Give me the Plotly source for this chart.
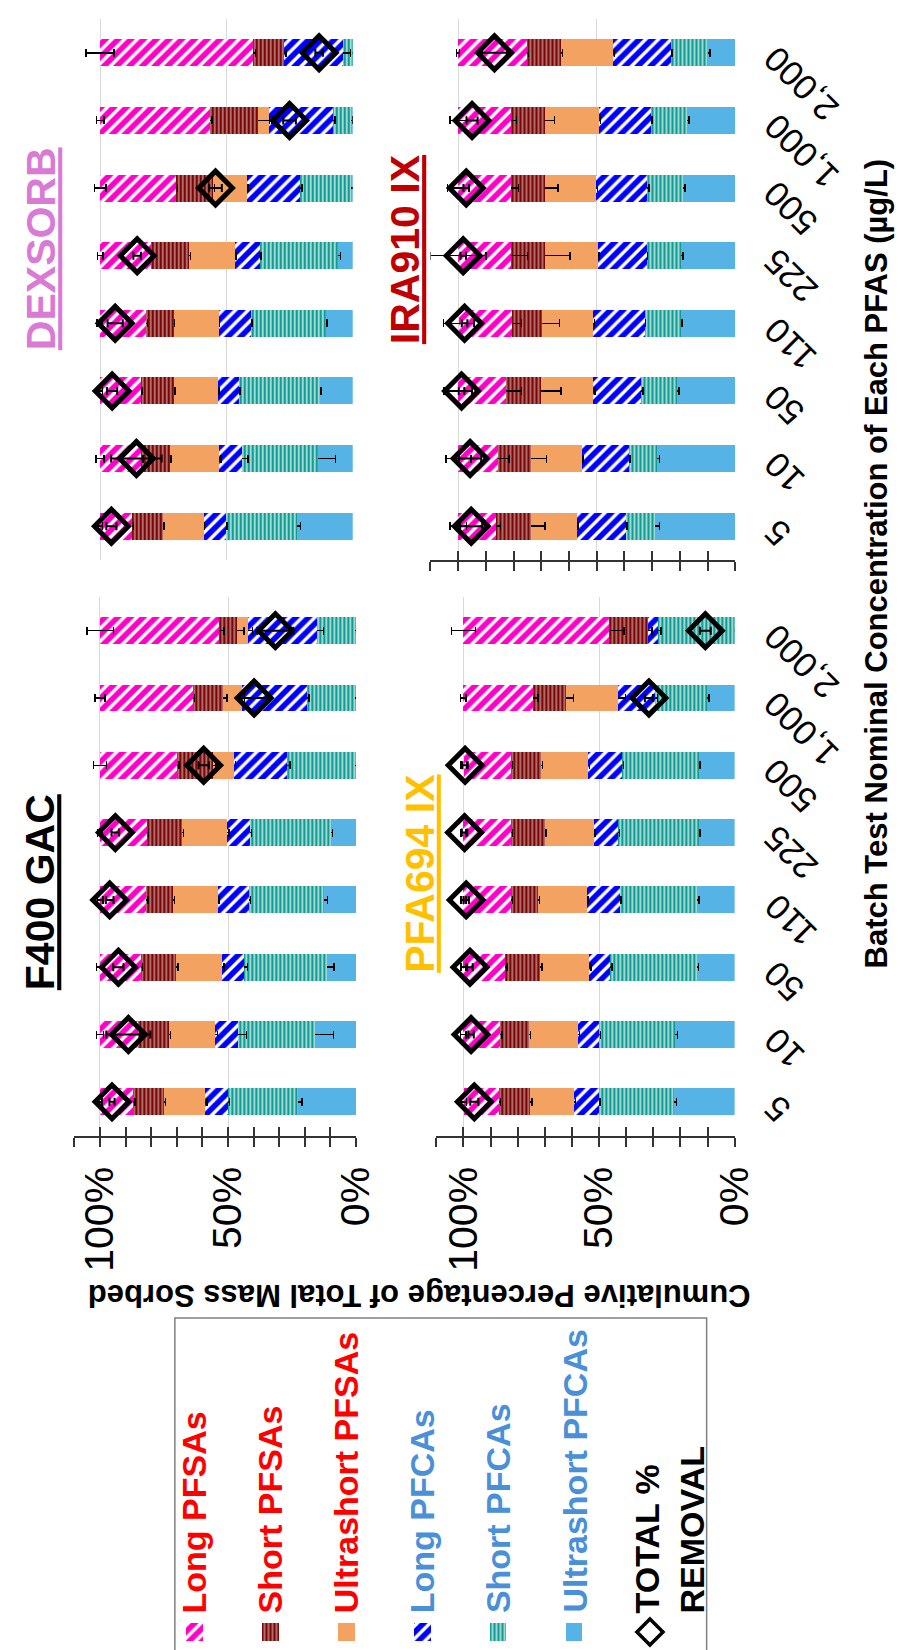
import plotly.graph_objects as go

W, H = 907, 1650
FONT = "Liberation Sans, Arial, sans-serif"

# ---------------- data ----------------
CATS = ["5", "10", "50", "110", "225", "500", "1,000", "2,000"]
SERIES = ["Ultrashort PFCAs", "Short PFCAs", "Long PFCAs",
          "Ultrashort PFSAs", "Short PFSAs", "Long PFSAs"]

# DEXSORB
dex_ulpfca = [22.1, 13.9, 13.1, 10.6, 6.0, 0.6, 0.6, 0.0]
dex_spfca = [28.1, 29.9, 31.9, 29.6, 30.6, 20.3, 7.3, 3.9]
dex_lpfca = [8.8, 9.3, 8.4, 12.9, 10.0, 20.8, 25.1, 23.4]
dex_ulpfsa = [16.1, 19.4, 17.4, 17.8, 18.0, 13.5, 4.5, 0.0]
dex_spfsa = [12.2, 11.2, 13.1, 10.9, 15.1, 14.8, 19.0, 12.0]
dex_lpfsa = [12.7, 16.3, 16.1, 18.3, 20.2, 29.9, 43.4, 60.7]
dex_total = [95.5, 85.6, 95.2, 94.0, 85.3, 54.3, 25.0, 13.3]
dex_e_ulpfca = [1.5, 7.0, 0.5, 0.5, 1.2, 1.2, 0.5, 0.5]
dex_e_spfca = [0.4, 2.4, 0.4, 0.4, 0.3, 0.8, 0.8, 3.0]
dex_e_lpfca = [0.4, 1.0, 0.4, 0.4, 0.4, 0.3, 1.0, 1.0]
dex_e_ulpfsa = [0.4, 0.5, 0.4, 0.4, 0.5, 0.5, 4.5, 0.8]
dex_e_spfsa = [0.5, 0.8, 0.6, 0.5, 0.5, 0.6, 0.8, 0.9]
dex_e_lpfsa = [1.0, 1.5, 1.0, 1.0, 1.1, 2.2, 1.5, 5.5]
dex_e_total = [2.0, 10.0, 2.0, 3.0, 1.5, 2.5, 2.5, 1.5]

# IRA910 IX
ira_ulpfca = [28.8, 28.4, 21.1, 19.6, 19.4, 18.8, 17.3, 9.9]
ira_spfca = [10.8, 10.0, 12.8, 13.1, 12.6, 12.9, 13.1, 13.3]
ira_lpfca = [17.6, 17.0, 17.4, 18.5, 17.6, 18.4, 18.8, 20.9]
ira_ulpfsa = [16.4, 18.4, 18.8, 18.5, 19.1, 18.5, 19.5, 18.8]
ira_spfsa = [12.7, 11.7, 12.7, 11.0, 12.2, 12.2, 12.2, 12.3]
ira_lpfsa = [13.7, 14.4, 17.3, 19.1, 19.1, 19.1, 19.1, 24.9]
ira_total = [95.3, 95.7, 98.8, 97.7, 98.2, 97.1, 95.0, 86.9]
ira_e_ulpfca = [1.5, 1.0, 0.8, 0.4, 0.5, 0.7, 0.7, 0.8]
ira_e_spfca = [0.5, 0.5, 0.6, 0.3, 0.4, 0.5, 0.4, 0.4]
ira_e_lpfca = [0.5, 0.5, 0.6, 0.4, 0.4, 0.4, 0.6, 0.6]
ira_e_ulpfsa = [4.9, 5.7, 7.2, 6.3, 9.1, 4.6, 3.4, 0.5]
ira_e_spfsa = [1.5, 3.8, 5.6, 3.5, 6.0, 2.6, 2.0, 0.5]
ira_e_lpfsa = [3.0, 4.5, 5.0, 5.5, 10.0, 4.0, 3.0, 0.5]
ira_e_total = [4.0, 4.0, 1.0, 1.0, 1.0, 1.0, 2.0, 4.5]

# F400 GAC
gac_ulpfca = [22.5, 15.9, 11.2, 12.5, 9.8, 0.3, 0.3, 0.6]
gac_spfca = [27.4, 30.1, 32.7, 29.2, 31.5, 26.7, 18.8, 14.6]
gac_lpfca = [8.9, 9.0, 8.3, 12.3, 8.9, 20.7, 25.4, 26.9]
gac_ulpfsa = [16.1, 18.0, 18.0, 17.5, 17.8, 8.0, 7.6, 4.2]
gac_spfsa = [12.1, 12.1, 13.7, 10.4, 13.6, 14.2, 11.7, 7.2]
gac_lpfsa = [13.0, 14.9, 16.1, 18.0, 18.4, 30.1, 36.2, 46.4]
gac_total = [95.3, 88.9, 92.8, 96.2, 94.0, 59.5, 39.8, 31.5]
gac_e_ulpfca = [1.3, 7.0, 2.5, 1.3, 0.6, 0.7, 1.3, 0.8]
gac_e_spfca = [0.5, 3.2, 1.6, 0.5, 0.5, 1.3, 0.7, 2.5]
gac_e_lpfca = [0.5, 0.8, 0.7, 0.5, 0.5, 0.7, 1.0, 1.6]
gac_e_ulpfsa = [0.5, 0.5, 0.6, 0.6, 0.6, 1.0, 1.7, 2.5]
gac_e_spfsa = [0.6, 0.6, 0.6, 0.6, 0.6, 0.8, 0.8, 1.9]
gac_e_lpfsa = [0.8, 1.3, 1.3, 1.0, 0.9, 2.5, 2.0, 5.2]
gac_e_total = [1.0, 8.6, 2.0, 1.5, 1.5, 2.0, 6.0, 7.0]

# PFA694 IX
pfa_ulpfca = [22.4, 22.0, 14.0, 13.8, 13.2, 13.2, 10.2, 0.0]
pfa_spfca = [27.7, 27.9, 31.8, 28.6, 29.8, 28.2, 19.2, 28.2]
pfa_lpfca = [9.0, 7.8, 7.8, 12.2, 9.0, 12.6, 13.6, 3.6]
pfa_ulpfsa = [16.2, 18.0, 18.0, 17.8, 18.0, 17.4, 19.1, 0.0]
pfa_spfsa = [11.6, 10.8, 13.0, 10.1, 12.5, 11.0, 12.4, 14.4]
pfa_lpfsa = [13.0, 13.6, 15.4, 17.5, 17.5, 17.5, 25.6, 53.8]
pfa_total = [96.0, 97.2, 97.6, 99.0, 99.6, 99.4, 31.6, 10.8]
pfa_e_ulpfca = [0.9, 0.9, 0.6, 0.6, 0.4, 0.4, 0.7, 1.5]
pfa_e_spfca = [0.5, 0.5, 0.5, 0.5, 0.5, 0.5, 1.0, 1.0]
pfa_e_lpfca = [0.5, 0.5, 0.6, 0.5, 0.5, 0.5, 2.7, 1.5]
pfa_e_ulpfsa = [0.5, 0.5, 0.5, 0.5, 0.5, 0.5, 2.7, 1.2]
pfa_e_spfsa = [0.5, 0.7, 0.6, 0.5, 0.5, 0.5, 1.9, 5.4]
pfa_e_lpfsa = [1.0, 1.0, 1.0, 1.0, 1.0, 1.0, 1.0, 4.5]
pfa_e_total = [1.5, 1.0, 1.0, 1.0, 1.0, 1.0, 1.5, 2.0]

LEGEND_ORDER = ["Long PFSAs", "Short PFSAs", "Ultrashort PFSAs",
                "Long PFCAs", "Short PFCAs", "Ultrashort PFCAs", "TOTAL % REMOVAL"]
PCT_TICKS = [0, 50, 100]
PCT_TEXT = ["0%", "50%", "100%"]
MINOR_TICKS = [10, 20, 30, 40, 60, 70, 80, 90, 110]
ALL_TICKS = list(range(0, 111, 10))

# ---------------- styles ----------------
STYLE = {
    "Long PFSAs": dict(color="#FF00C8", shape="/", solidity=0.62, size=9),
    "Short PFSAs": dict(color="#7A0606", shape="|", solidity=0.8, size=4),
    "Ultrashort PFSAs": dict(color="#F4A261", shape="", solidity=1, size=8),
    "Long PFCAs": dict(color="#0000FF", shape="/", solidity=0.62, size=9),
    "Short PFCAs": dict(color="#109C92", shape="|", solidity=0.7, size=4),
    "Ultrashort PFCAs": dict(color="#56B3E6", shape="", solidity=1, size=8),
}
LEG_TEXT_COLOR = {
    "Long PFSAs": "#FF0000", "Short PFSAs": "#FF0000", "Ultrashort PFSAs": "#FF0000",
    "Long PFCAs": "#4A90D9", "Short PFCAs": "#4A90D9", "Ultrashort PFCAs": "#4A90D9",
}


def marker_for(name):
    s = STYLE[name]
    if s["shape"]:
        return dict(color=s["color"], line=dict(width=0),
                    pattern=dict(shape=s["shape"], fgcolor=s["color"], bgcolor="white",
                                 fgopacity=1, size=s["size"], solidity=s["solidity"]))
    return dict(color=s["color"], line=dict(width=0))


def px(x):
    return x / W


def py(y):
    return 1 - y / H


panels = [
    dict(xa="x", ya="y",
         vals=[dex_ulpfca, dex_spfca, dex_lpfca, dex_ulpfsa, dex_spfsa, dex_lpfsa],
         errs=[dex_e_ulpfca, dex_e_spfca, dex_e_lpfca, dex_e_ulpfsa, dex_e_spfsa, dex_e_lpfsa],
         total=dex_total, etotal=dex_e_total,
         xdom=(68.4, 353.3), ydom=(11, 552), line=False, labels=False, cats=False,
         title="DEXSORB", tcolor="#D97BD4", tpos=(34, 241)),
    dict(xa="x2", ya="y2",
         vals=[ira_ulpfca, ira_spfca, ira_lpfca, ira_ulpfsa, ira_spfsa, ira_lpfsa],
         errs=[ira_e_ulpfca, ira_e_spfca, ira_e_lpfca, ira_e_ulpfsa, ira_e_spfsa, ira_e_lpfsa],
         total=ira_total, etotal=ira_e_total,
         xdom=(433, 745.3), ydom=(11, 552), line=True, labels=False, cats=True,
         title="IRA910 IX", tcolor="#C00000", tpos=(407, 242)),
    dict(xa="x3", ya="y3",
         vals=[gac_ulpfca, gac_spfca, gac_lpfca, gac_ulpfsa, gac_spfsa, gac_lpfsa],
         errs=[gac_e_ulpfca, gac_e_spfca, gac_e_lpfca, gac_e_ulpfsa, gac_e_spfsa, gac_e_lpfsa],
         total=gac_total, etotal=gac_e_total,
         xdom=(68, 356.7), ydom=(589, 1127.5), line=True, labels=True, cats=False,
         title="F400 GAC", tcolor="#000000", tpos=(33, 884)),
    dict(xa="x4", ya="y4",
         vals=[pfa_ulpfca, pfa_spfca, pfa_lpfca, pfa_ulpfsa, pfa_spfsa, pfa_lpfsa],
         errs=[pfa_e_ulpfca, pfa_e_spfca, pfa_e_lpfca, pfa_e_ulpfsa, pfa_e_spfsa, pfa_e_lpfsa],
         total=pfa_total, etotal=pfa_e_total,
         xdom=(439, 744.7), ydom=(589, 1127.5), line=True, labels=True, cats=True,
         title="PFA694 IX", tcolor="#FFC000", tpos=(422, 866)),
]

fig = go.Figure()
layout = dict(
    width=W, height=H, margin=dict(l=0, r=0, t=0, b=0),
    paper_bgcolor="white", plot_bgcolor="white",
    barmode="stack", showlegend=False,
    font=dict(family=FONT, color="black"),
)
annotations = []
overlay_idx = 5

for p in panels:
    for name, v, e in zip(SERIES, p["vals"], p["errs"]):
        fig.add_trace(go.Bar(
            x=v, y=CATS, orientation="h", name=name, width=0.4,
            marker=marker_for(name), xaxis=p["xa"], yaxis=p["ya"],
            error_x=dict(type="data", array=e, color="black", thickness=1.5, width=4),
            hoverinfo="x+name",
        ))
    fig.add_trace(go.Scatter(
        x=p["total"], y=CATS, mode="markers", name="TOTAL % REMOVAL",
        xaxis=p["xa"], yaxis=p["ya"], cliponaxis=False,
        marker=dict(symbol="diamond-open", size=26, color="black",
                    line=dict(width=5, color="black")),
        error_x=dict(type="data", array=p["etotal"], color="black", thickness=2, width=4),
    ))

    xk = "xaxis" + p["xa"][1:]
    yk = "yaxis" + p["ya"][1:]
    xdom = [px(p["xdom"][0]), px(p["xdom"][1])]
    ydom = [py(p["ydom"][1]), py(p["ydom"][0])]
    xax = dict(domain=xdom, anchor=p["ya"], range=[110, 0], fixedrange=True,
               tickmode="array", tickvals=PCT_TICKS, ticktext=PCT_TEXT,
               showgrid=True, gridcolor="#D9D9D9", gridwidth=1, zeroline=False,
               showticklabels=p["labels"], tickangle=-90,
               tickfont=dict(size=41, family=FONT, color="black"),
               ticklabelstandoff=4)
    if p["line"]:
        xax.update(showline=True, linecolor="#333333", linewidth=2,
                   ticks="outside", ticklen=9, tickwidth=2, tickcolor="#333333",
                   minor=dict(tickmode="array", tickvals=MINOR_TICKS, ticks="outside",
                              ticklen=9, tickwidth=2, tickcolor="#333333", showgrid=False))
    else:
        xax.update(showline=False, ticks="")
    layout[xk] = xax
    layout[yk] = dict(domain=ydom, anchor=p["xa"], type="category",
                      categoryorder="array", categoryarray=CATS, range=[-0.5, 7.5],
                      showticklabels=False, showgrid=False, zeroline=False,
                      showline=False, ticks="", fixedrange=True)

    if p["line"]:
        ok = "xaxis%d" % overlay_idx
        layout[ok] = dict(domain=xdom, anchor=p["ya"], overlaying=p["xa"],
                          range=[110, 0], fixedrange=True, tickmode="array",
                          tickvals=ALL_TICKS, ticks="inside", ticklen=9, tickwidth=2,
                          tickcolor="#333333", showticklabels=False, showgrid=False,
                          zeroline=False, showline=False)
        fig.add_trace(go.Scatter(x=[None], y=[None], xaxis="x%d" % overlay_idx,
                                 yaxis=p["ya"], showlegend=False, hoverinfo="skip"))
        overlay_idx += 1

    # panel title
    annotations.append(dict(
        x=px(p["tpos"][0]), y=py(p["tpos"][1]), xref="paper", yref="paper",
        text="<b><u>%s</u></b>" % p["title"], textangle=-90, showarrow=False,
        font=dict(size=41, color=p["tcolor"], family=FONT),
        xanchor="center", yanchor="middle"))

    # category labels (rotated), positioned by category index
    if p["cats"]:
        for i, c in enumerate(CATS):
            L = sum(0.278 if ch == "," else 0.556 for ch in c) * 35
            sh = L / 2 * 0.7071
            annotations.append(dict(
                x=px(781), y=i, xref="paper", yref=p["ya"], text=c,
                textangle=-135, showarrow=False, xanchor="center", yanchor="middle",
                xshift=sh, yshift=-sh, font=dict(size=35, color="black", family=FONT)))

# axis titles
annotations.append(dict(
    x=px(421), y=py(1288), xref="paper", yref="paper",
    text="<b>Cumulative Percentage of Total Mass Sorbed</b>", textangle=180,
    showarrow=False, font=dict(size=31, color="black", family=FONT),
    xanchor="center", yanchor="middle"))
annotations.append(dict(
    x=px(890), y=py(555), xref="paper", yref="paper",
    text="<b>Batch Test Nominal Concentration of Each PFAS (µg/L)</b>", textangle=-90,
    showarrow=False, font=dict(size=31, color="black", family=FONT),
    xanchor="center", yanchor="middle"))

# ---------------- legend (rotated, custom) ----------------
leg_dom = [px(152.2), px(696.8)]
layout["xaxis8"] = dict(domain=leg_dom, anchor="y8", type="category",
                        categoryorder="array", categoryarray=LEGEND_ORDER,
                        range=[-0.5, 6.5], visible=False, fixedrange=True)
layout["yaxis8"] = dict(domain=[py(1633), py(1615)], anchor="x8", range=[0, 1],
                        visible=False, fixedrange=True)
for name in LEGEND_ORDER[:-1]:
    fig.add_trace(go.Bar(x=[name], y=[1], width=0.22, marker=marker_for(name),
                         xaxis="x8", yaxis="y8", showlegend=False, hoverinfo="skip"))
fig.add_trace(go.Scatter(x=[LEGEND_ORDER[-1]], y=[0.5], mode="markers",
                         xaxis="x8", yaxis="y8", hoverinfo="skip", cliponaxis=False,
                         marker=dict(symbol="diamond-open", size=20, color="black",
                                     line=dict(width=3.5, color="black"))))
for name in LEGEND_ORDER[:-1]:
    annotations.append(dict(
        x=name, y=py(1607), xref="x8", yref="paper", text="<b>%s</b>" % name,
        textangle=-90, showarrow=False, xanchor="center", yanchor="bottom",
        font=dict(size=34, color=LEG_TEXT_COLOR[name], family=FONT)))
annotations.append(dict(
    x=LEGEND_ORDER[-1], y=py(1607), xref="x8", yref="paper",
    text="<b>TOTAL %<br>REMOVAL</b>", align="left", xshift=19,
    textangle=-90, showarrow=False, xanchor="center", yanchor="bottom",
    font=dict(size=34, color="black", family=FONT)))

layout["shapes"] = [dict(type="rect", xref="paper", yref="paper",
                         x0=px(171), x1=px(716), y0=py(1648), y1=py(1310),
                         line=dict(color="#7F7F7F", width=1.5), fillcolor="rgba(0,0,0,0)")]
layout["annotations"] = annotations
fig.update_layout(**layout)

fig.write_html("out.html")
